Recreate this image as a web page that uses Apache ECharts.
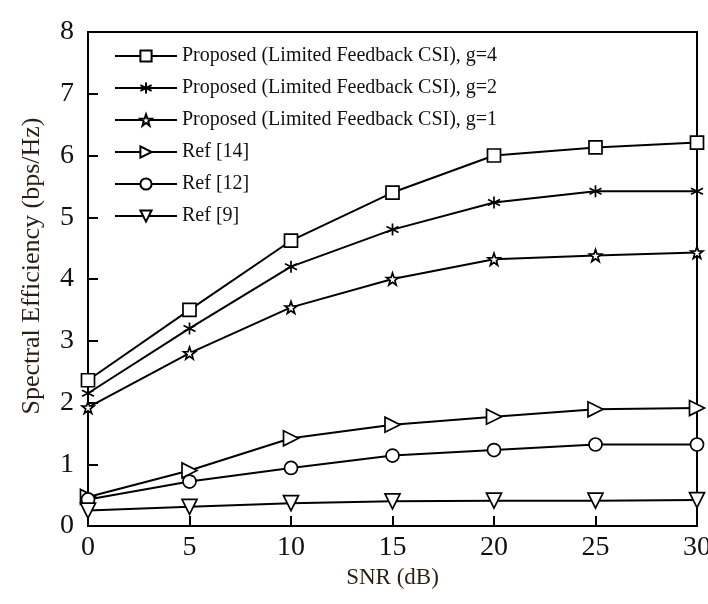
<!DOCTYPE html>
<html>
<head>
<meta charset="utf-8">
<script src="https://cdn.jsdelivr.net/npm/echarts@6/dist/echarts.min.js"></script>
<style>
  html, body { margin: 0; padding: 0; background: #fff; }
  #chart { width: 708px; height: 604px; }
</style>
</head>
<body>
<div id="chart"></div>
<script>
// SNR values (dB)
const snr = [0, 5, 10, 15, 20, 25, 30]

// spectral efficiency
const propG4 = [2.36, 3.5, 4.62, 5.4, 6.0, 6.13, 6.21]
const propG2 = [2.15, 3.2, 4.2, 4.8, 5.24, 5.42, 5.42]
const propG1 = [1.92, 2.8, 3.54, 4.0, 4.32, 4.38, 4.43]
const ref14 = [0.47, 0.9, 1.42, 1.64, 1.77, 1.89, 1.91]
const ref12 = [0.43, 0.72, 0.94, 1.14, 1.23, 1.32, 1.32]
const ref9 = [0.25, 0.31, 0.37, 0.4, 0.41, 0.41, 0.42]

const names = [
  'Proposed (Limited Feedback CSI), g=4',
  'Proposed (Limited Feedback CSI), g=2',
  'Proposed (Limited Feedback CSI), g=1',
  'Ref [14]',
  'Ref [12]',
  'Ref [9]',
]

const FONT = '"Liberation Serif", "DejaVu Serif", serif'
const ASTERISK = 'path://M10,0 L10,20 M1.34,5 L18.66,15 M1.34,15 L18.66,5'
const PENTA = 'path://M10,0 L12.35,6.76 L19.51,6.91 L13.8,11.24 L15.88,18.09 L10,14 L4.12,18.09 L6.2,11.24 L0.49,6.91 L7.65,6.76 Z'

const chart = echarts.init(document.getElementById('chart'))

function mkSeries(name, values, symbol, size, rotate) {
  return {
    name,
    type: 'line',
    data: snr.map((x, i) => [x, values[i]]),
    symbol,
    symbolSize: size,
    symbolRotate: rotate || 0,
    showAllSymbol: true,
    clip: false,
    lineStyle: { color: '#000', width: 2 },
    itemStyle: { color: '#fff', borderColor: '#000', borderWidth: 1.7 },
    emphasis: { disabled: true },
  }
}

chart.setOption({
  animation: false,
  backgroundColor: '#fff',
  grid: {
    left: 88, right: 11, top: 32, bottom: 78,
    outerBoundsMode: 'none',
    show: true, borderColor: '#000', borderWidth: 2,
  },
  legend: {
    orient: 'vertical',
    left: 109, top: 41,
    itemWidth: 62,
    itemHeight: 14,
    itemGap: 12,
    data: names,
    textStyle: { fontFamily: FONT, fontSize: 20, color: '#111' },
  },
  xAxis: {
    type: 'value',
    min: 0, max: 30, interval: 5,
    name: 'SNR (dB)',
    nameLocation: 'middle',
    nameGap: 40,
    nameTextStyle: { fontFamily: FONT, fontSize: 23, color: '#2a1f14' },
    axisLine: { show: true, lineStyle: { color: '#000', width: 2 } },
    axisTick: { show: true, inside: true, length: 10, lineStyle: { color: '#000', width: 2 } },
    axisLabel: { fontFamily: FONT, fontSize: 28, color: '#111', margin: 8 },
    splitLine: { show: false },
  },
  yAxis: {
    type: 'value',
    min: 0, max: 8, interval: 1,
    name: 'Spectral Efficiency (bps/Hz)',
    nameLocation: 'middle',
    nameGap: 43,
    nameTextStyle: { fontFamily: FONT, fontSize: 26, color: '#2a1f14', padding: [0, 0, 0, 26] },
    axisLine: { show: true, lineStyle: { color: '#000', width: 2 } },
    axisTick: { show: true, inside: true, length: 10, lineStyle: { color: '#000', width: 2 } },
    axisLabel: { fontFamily: FONT, fontSize: 28, color: '#111', margin: 14 },
    splitLine: { show: false },
  },
  series: [
    mkSeries(names[0], propG4, 'rect', 13),
    mkSeries(names[1], propG2, ASTERISK, 12),
    mkSeries(names[2], propG1, PENTA, 12),
    mkSeries(names[3], ref14, 'triangle', 15, -90),
    mkSeries(names[4], ref12, 'circle', 13),
    mkSeries(names[5], ref9, 'triangle', 15, 180),
  ],
})
</script>
</body>
</html>
